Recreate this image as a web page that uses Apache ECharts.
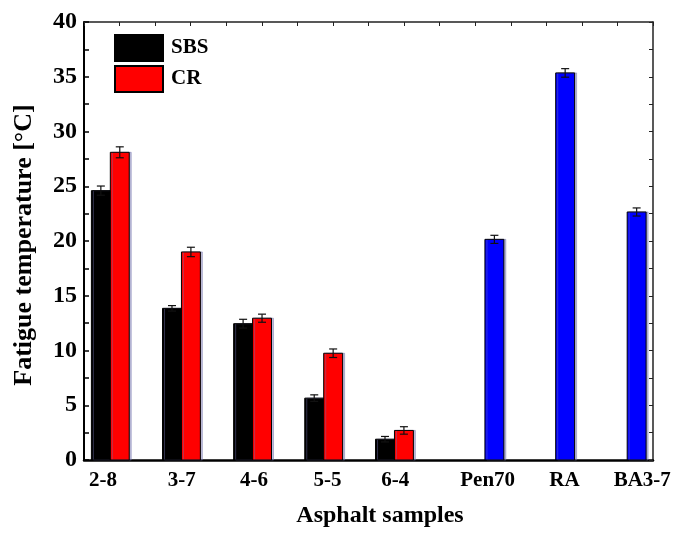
<!DOCTYPE html>
<html>
<head>
<meta charset="utf-8">
<script src="https://cdn.jsdelivr.net/npm/echarts@6/dist/echarts.min.js"></script>
<style>
html,body{margin:0;padding:0;background:#fff;}
#c{width:674px;height:533px;}
</style>
</head>
<body>
<div id="c"></div>
<script>
// ---- data ----
const categories = ['2-8', '3-7', '4-6', '5-5', '6-4', 'Pen70', 'RA', 'BA3-7'];
const sbsValues = [24.6, 13.85, 12.45, 5.65, 1.9];
const sbsErrors = [0.42, 0.25, 0.4, 0.3, 0.25];
const crValues = [28.1, 19.0, 12.95, 9.75, 2.7];
const crErrors = [0.5, 0.43, 0.37, 0.39, 0.34];
const baseValues = [20.15, 35.35, 22.65];   // Pen70, RA, BA3-7
const baseErrors = [0.37, 0.39, 0.37];

// ---- layout (axis coordinates of groups / labels) ----
const groupCenter = [0.37, 1.37, 2.37, 3.37, 4.365, 5.77, 6.765, 7.77];
const labelPos = [0.267, 1.374, 2.391, 3.425, 4.375, 5.676, 6.756, 7.849];
const barW = 0.266;
const FONT = "'Liberation Serif','Times New Roman',serif";

const sbsData = sbsValues.map((v, i) => [groupCenter[i] - barW / 2, v, sbsErrors[i]]);
const crData = crValues.map((v, i) => [groupCenter[i] + barW / 2, v, crErrors[i]]);
const baseData = baseValues.map((v, i) => [groupCenter[5 + i], v, baseErrors[i]]);

function renderBar(params, api) {
  const x = api.value(0), y = api.value(1), e = api.value(2);
  const top = api.coord([x, y]);
  const bot = api.coord([x, 0]);
  const w = api.size([barW, 0])[0];
  const eT = api.coord([x, y + e]);
  const eB = api.coord([x, y - e]);
  const cap = 4;
  const es = {stroke: '#111', lineWidth: 1.2};
  return {
    type: 'group',
    children: [
      {type: 'rect', shape: {x: top[0] - w / 2, y: top[1], width: w, height: bot[1] - top[1]},
       style: {fill: api.visual('color'), stroke: '#000', lineWidth: 1,
               shadowColor: 'rgba(110,110,170,0.45)', shadowOffsetX: 2, shadowOffsetY: 0, shadowBlur: 0.01}},
      {type: 'line', shape: {x1: top[0], y1: eT[1], x2: top[0], y2: eB[1]}, style: es},
      {type: 'line', shape: {x1: top[0] - cap, y1: eT[1], x2: top[0] + cap, y2: eT[1]}, style: es},
      {type: 'line', shape: {x1: top[0] - cap, y1: eB[1], x2: top[0] + cap, y2: eB[1]}, style: es}
    ]
  };
}

const labelFont = {fontFamily: FONT, fontWeight: 'bold', color: '#000'};

const chart = echarts.init(document.getElementById('c'));
chart.setOption({
  animation: false,
  backgroundColor: '#fff',
  grid: {left: 84, right: 21, top: 22, bottom: 71},
  legend: {
    data: ['SBS', 'CR'],
    orient: 'vertical',
    left: 114, top: 34, padding: 0,
    itemWidth: 48, itemHeight: 26, itemGap: 3,
    icon: 'rect',
    textStyle: Object.assign({fontSize: 21, padding: [0, 0, 0, 3]}, labelFont)
  },
  xAxis: [
    {
      type: 'value', position: 'bottom', min: 0, max: 8,
      axisLine: {show: true, onZero: false, lineStyle: {color: '#000', width: 2.5}},
      axisTick: {show: false},
      splitLine: {show: false},
      axisLabel: Object.assign({
        customValues: labelPos,
        fontSize: 21, margin: 10,
        formatter: function (v) {
          let best = 0, d = Infinity;
          labelPos.forEach((p, i) => { if (Math.abs(p - v) < d) { d = Math.abs(p - v); best = i; } });
          return categories[best];
        }
      }, labelFont),
      name: 'Asphalt samples',
      nameLocation: 'middle', nameGap: 44,
      nameTextStyle: Object.assign({fontSize: 24, padding: [0, 0, 0, 23]}, labelFont)
    },
    {
      type: 'value', position: 'top', min: 0, max: 8, interval: 0.5,
      axisLine: {show: true, onZero: false, lineStyle: {color: '#222', width: 1.5}},
      axisTick: {show: true, inside: true, length: 4, lineStyle: {color: '#222', width: 1}},
      axisLabel: {show: false},
      splitLine: {show: false}
    }
  ],
  yAxis: [
    {
      type: 'value', position: 'left', min: 0, max: 40, interval: 5,
      axisLine: {show: true, onZero: false, lineStyle: {color: '#000', width: 2}},
      axisTick: {show: true, inside: true, length: 5, lineStyle: {color: '#000', width: 1.5}},
      minorTick: {show: true, splitNumber: 2, length: 5, lineStyle: {color: '#000', width: 1.5}},
      splitLine: {show: false},
      axisLabel: Object.assign({fontSize: 24, margin: 7}, labelFont),
      name: 'Fatigue temperature [°C]',
      nameLocation: 'middle', nameGap: 47, nameRotate: 90,
      nameTextStyle: Object.assign({fontSize: 26, padding: [0, 8, 0, 0]}, labelFont)
    },
    {
      type: 'value', position: 'right', min: 0, max: 40, interval: 5,
      axisLine: {show: true, onZero: false, lineStyle: {color: '#222', width: 1.5}},
      axisTick: {show: true, inside: true, length: 4, lineStyle: {color: '#222', width: 1}},
      minorTick: {show: true, splitNumber: 2, length: 4, lineStyle: {color: '#222', width: 1}},
      splitLine: {show: false},
      axisLabel: {show: false}
    }
  ],
  series: [
    {name: 'SBS', type: 'custom', xAxisIndex: 0, yAxisIndex: 0, renderItem: renderBar,
     itemStyle: {color: '#000000', borderColor: '#000', borderWidth: 1},
     encode: {x: 0, y: 1}, data: sbsData},
    {name: 'CR', type: 'custom', xAxisIndex: 0, yAxisIndex: 0, renderItem: renderBar,
     itemStyle: {color: '#ff0000', borderColor: '#000', borderWidth: 1},
     encode: {x: 0, y: 1}, data: crData},
    {name: 'Base', type: 'custom', xAxisIndex: 0, yAxisIndex: 0, renderItem: renderBar,
     itemStyle: {color: '#0000ff', borderColor: '#000', borderWidth: 1},
     encode: {x: 0, y: 1}, data: baseData}
  ]
});
</script>
</body>
</html>
